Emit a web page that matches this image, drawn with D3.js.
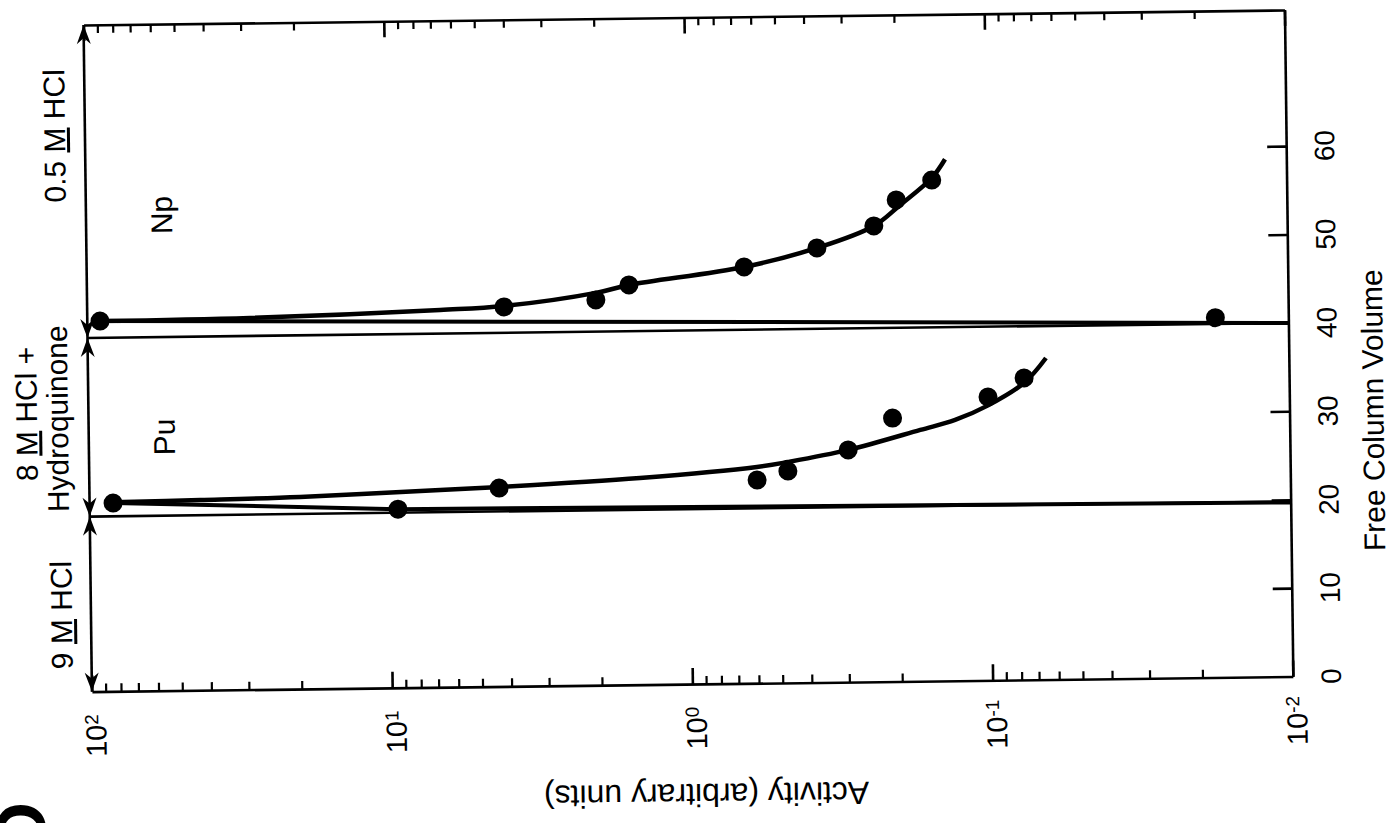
<!DOCTYPE html>
<html><head><meta charset="utf-8">
<script src="https://cdn.jsdelivr.net/npm/d3@7"></script>
<style>
body{margin:0;background:#fff}
svg{display:block}
text{font-family:"Liberation Sans",Arial,Helvetica,sans-serif;fill:#000}
</style>
</head><body>
<svg id="c" width="1390" height="823"></svg>
<script>
// ---------------- data ----------------
const activityTicks = [100, 10, 1, 0.1, 0.01];
const activityExponents = ["2", "1", "0", "-1", "-2"];
const volumeTicks = [10, 20, 30, 40, 50, 60];
const volumeLabels = [0, 10, 20, 30, 40, 50, 60];
const volumeMax = 75.4;

// [activity, free column volume]
const puPoints = [[83.5,21.3],[9.4,20.2],[4.32,22.45],[0.597,22.99],[0.471,23.96],[0.296,26.26],[0.21,29.8],[0.1008,32.05],[0.0763,34.15]];
const npPoints = [[90.7,41.9],[4.09,42.92],[2.02,43.59],[1.565,45.23],[0.646,47.1],[0.369,49.15],[0.238,51.56],[0.2,54.47],[0.152,56.67],[0.0175,40.7]];
const puCurve = [[83.5,21.4],[42.8,21.52],[19.9,21.72],[6.79,22.31],[4.29,22.57],[1.466,23.38],[0.597,24.46],[0.471,24.98],[0.296,26.26],[0.17,28.42],[0.13,29.5],[0.1008,31.1],[0.0763,33.6],[0.0644,36.38]];
const npCurve = [[90.7,41.9],[28.7,42.04],[6.68,42.67],[4.09,43.03],[2.02,44.38],[1.565,45.23],[0.646,47.1],[0.369,49.15],[0.238,51.56],[0.194,53.9],[0.152,56.9],[0.137,59.0]];
const puRise = [[83.5,21.3],[9.4,20.2],[0.01,19.7]];
const npRise = [[90.7,41.9],[0.01,40.0]];
const boundaries = [19.8, 40];
const eluentRanges = [[0,19.8],[19.8,40],[40,volumeMax]];
const elementLabels = [["Np",53.8],["Pu",28.7]];

// ---------------- layout ----------------
const L = 87.7, R = 1288.7, T = 17.5, B = 684.1;
const svg = d3.select("#c");
const g = svg.append("g").attr("transform", `rotate(-0.72,${(L+R)/2},${(T+B)/2})`);

const x = d3.scaleLog().domain([100, 0.01]).range([L, R]);
const y = d3.scaleLinear().domain([0, volumeMax]).range([B, T]);

const minorVals = [];
[10, 1, 0.1, 0.01].forEach(d => { for (let k = 2; k <= 9; k++) minorVals.push(+(k*d).toPrecision(3)); });

function styleAxis(sel, w) {
  sel.selectAll("path,line").attr("stroke", "#000").attr("stroke-width", w);
  sel.selectAll("text").remove();
}
// bottom axis
const gb = g.append("g").attr("transform", `translate(0,${B})`)
  .call(d3.axisBottom(x).tickValues(activityTicks).tickSize(-16).tickSizeOuter(0).tickFormat(""));
styleAxis(gb, 2.6);
const gbm = g.append("g").attr("transform", `translate(0,${B})`)
  .call(d3.axisBottom(x).tickValues(minorVals).tickSize(-8).tickSizeOuter(0).tickFormat(""));
gbm.select(".domain").remove(); styleAxis(gbm, 2.2);
// top axis
const gt = g.append("g").attr("transform", `translate(0,${T})`)
  .call(d3.axisTop(x).tickValues(activityTicks).tickSize(-16).tickSizeOuter(0).tickFormat(""));
styleAxis(gt, 2.6);
const gtm = g.append("g").attr("transform", `translate(0,${T})`)
  .call(d3.axisTop(x).tickValues(minorVals).tickSize(-8).tickSizeOuter(0).tickFormat(""));
gtm.select(".domain").remove(); styleAxis(gtm, 2.2);
// right axis
const gr = g.append("g").attr("transform", `translate(${R},0)`)
  .call(d3.axisRight(y).tickValues(volumeTicks).tickSize(-19).tickSizeOuter(0).tickFormat(""));
styleAxis(gr, 2.6);
// left axis (arrow shaft)
g.append("line").attr("x1", L).attr("x2", L).attr("y1", y(0)).attr("y2", y(volumeMax))
  .attr("stroke", "#000").attr("stroke-width", 2.6);

// arrow heads on left axis
function arrowHead(tipY, dir) { // dir=+1 points down (screen), -1 points up
  const px = L, py = tipY;
  g.append("path")
    .attr("d", `M${px},${py} L${px-7},${py - dir*19} L${px},${py - dir*13} L${px+7},${py - dir*19} Z`)
    .attr("fill", "#000");
}
eluentRanges.forEach(r => { arrowHead(y(r[0]), 1); arrowHead(y(r[1]), -1); });

// bottom tick labels
activityTicks.forEach((v, i) => {
  const t = g.append("text").attr("transform", `translate(${x(v)+14},${B+44}) rotate(-90)`)
    .attr("text-anchor", "middle").style("font-size", "29px");
  t.append("tspan").text("10");
  t.append("tspan").attr("dy", -8).style("font-size", "19px").text(activityExponents[i]);
});
// right tick labels
volumeLabels.forEach(v => {
  g.append("text").attr("transform", `translate(${R+48},${y(v)}) rotate(-90)`)
    .attr("text-anchor", "middle").style("font-size", "28px").text(v);
});
// axis titles
g.append("text").attr("transform", `translate(${R+94},${y(30)}) rotate(-90)`)
  .attr("text-anchor", "middle").style("font-size", "30px").text("Free Column Volume");
g.append("text").attr("transform", `translate(701,${B+100}) rotate(180)`)
  .attr("text-anchor", "middle").style("font-size", "32px").text("Activity (arbitrary units)");

// eluent labels
function eluentLabel(parts, dx, v) {
  const t = g.append("text").attr("transform", `translate(${L+dx},${y(v)}) rotate(-90)`)
    .attr("text-anchor", "middle").style("font-size", "30px");
  parts.forEach(p => {
    const s = t.append("tspan").text(p[0]);
    if (p[1]) s.style("text-decoration", "underline");
  });
}
eluentLabel([["0.5 "],["M",1],[" HCl"]], -20, 62.9);
eluentLabel([["8 "],["M",1],[" HCl +"]], -51.5, 31.5);
eluentLabel([["Hydroquinone"]], -20.6, 30.9);
eluentLabel([["9 "],["M",1],[" HCl"]], -19, 8.7);

// element labels
elementLabels.forEach(d => {
  g.append("text").attr("transform", `translate(${L+86},${y(d[1])}) rotate(-90)`)
    .attr("text-anchor", "middle").style("font-size", "30px").text(d[0]);
});

// boundary lines
boundaries.forEach(b => {
  g.append("line").attr("x1", x(100)).attr("x2", x(0.01)).attr("y1", y(b)).attr("y2", y(b))
    .attr("stroke", "#000").attr("stroke-width", 2.6);
});

// rise lines
const straight = d3.line().x(d => x(d[0])).y(d => y(d[1]));
[puRise, npRise].forEach(s => {
  g.append("path").attr("d", straight(s)).attr("fill", "none").attr("stroke", "#000").attr("stroke-width", 4);
});
// decay curves
const smooth = d3.line().x(d => x(d[0])).y(d => y(d[1])).curve(d3.curveCatmullRom.alpha(0.5));
[puCurve, npCurve].forEach(s => {
  g.append("path").attr("d", smooth(s)).attr("fill", "none").attr("stroke", "#000").attr("stroke-width", 4.5);
});
// points
[puPoints, npPoints].forEach(s => {
  g.selectAll(null).data(s).enter().append("circle")
    .attr("cx", d => x(d[0])).attr("cy", d => y(d[1])).attr("r", 9.5).attr("fill", "#000");
});

// panel letter fragment at the page corner
svg.append("text").attr("transform", "translate(46,854) rotate(-90)")
  .style("font-size", "72px").style("font-weight", "bold").text("D");
</script>
</body></html>
